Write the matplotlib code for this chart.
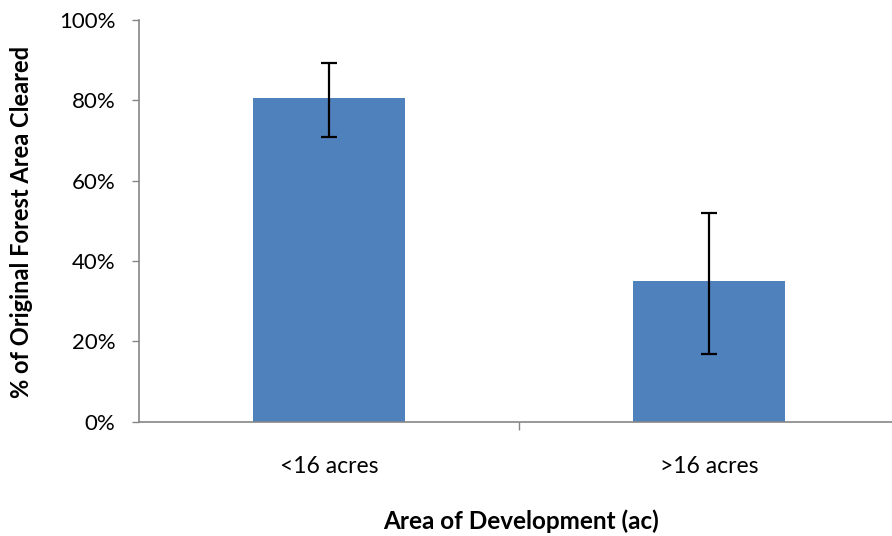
import matplotlib
matplotlib.use("Agg")
import matplotlib.pyplot as plt
from matplotlib.ticker import FuncFormatter

categories = ["<16 acres", ">16 acres"]
values = [80.5, 35.0]
err_low = [9.6, 18.1]
err_high = [8.7, 17.0]
yticks = [0, 20, 40, 60, 80, 100]

plt.rcParams['font.family'] = ['Lato', 'DejaVu Sans']

W, H = 892, 536
fig = plt.figure(figsize=(W / 100, H / 100), dpi=100)
ax = fig.add_axes([139 / W, 1 - 421.7 / H, (899 - 139) / W, (421.7 - 20) / H])

x = list(range(len(categories)))
ax.bar(x, values, width=0.4, color="#4F81BD", zorder=2)
ax.errorbar(x, values, yerr=[err_low, err_high], fmt="none", ecolor="black",
            elinewidth=1.6, capsize=6, capthick=1.6, zorder=3)

ax.set_xlim(-0.5, 1.5)
ax.set_ylim(0, 100)
ax.set_yticks(yticks)
ax.yaxis.set_major_formatter(FuncFormatter(lambda v, p: f"{int(v)}%"))
ax.set_xticks([0.5])
ax.set_xticklabels([""])
ax.tick_params(axis="x", length=6, width=1, color="#868686", direction="out")
ax.tick_params(axis="y", length=5, width=1, color="#868686", direction="out",
               labelsize=16, pad=12)

for sp in ["top", "right"]:
    ax.spines[sp].set_visible(False)
for sp in ["left", "bottom"]:
    ax.spines[sp].set_color("#868686")
    ax.spines[sp].set_linewidth(1.2)

for xi, lab in zip(x, categories):
    ax.text(xi, -11.2, lab, ha="center", va="center", fontsize=16.5,
            transform=ax.transData, clip_on=False)

fig.text(521 / W, 1 - 521 / H, "Area of Development (ac)", ha="center", va="center",
         fontsize=17.5, fontweight="bold")
fig.text(22 / W, 1 - 222 / H, "% of Original Forest Area Cleared", ha="center", va="center",
         rotation=90, fontsize=17, fontweight="bold")

fig.savefig("out.png", dpi=100)
